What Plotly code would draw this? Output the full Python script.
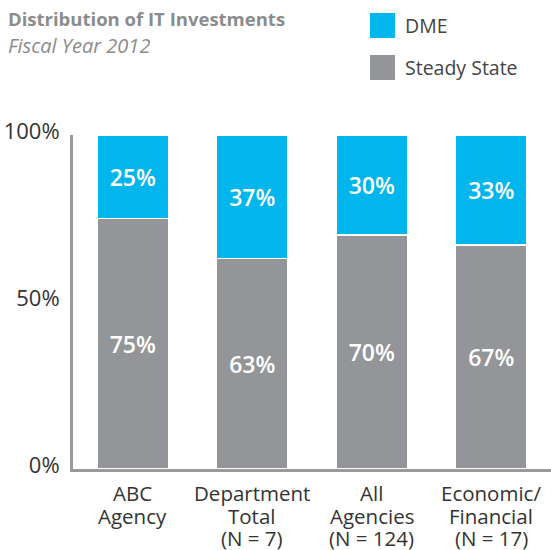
import plotly.graph_objects as go

categories = ["ABC Agency", "Department Total", "All Agencies", "Economic/ Financial"]
category_lines = [["ABC", "Agency"], ["Department", "Total", "(N = 7)"],
                  ["All", "Agencies", "(N = 124)"], ["Economic/", "Financial", "(N = 17)"]]
steady_state = [75, 63, 70, 67]
dme = [25, 37, 30, 33]
tick_vals = [0, 50, 100]
tick_text = ["0%", "50%", "100%"]

W, H = 551, 550
ML, MR, MT, MB = 73, 0, 135, 81
PW, PH = W - ML - MR, H - MT - MB

def px(x):
    return (x - ML) / PW

def py(y):
    return (H - MB - y) / PH

C_DME = "#00B6EC"
C_SS = "#939598"
FONT = "Open Sans"

fig = go.Figure()
for vals, name, col in [(steady_state, "Steady State", C_SS), (dme, "DME", C_DME)]:
    fig.add_trace(go.Bar(
        x=categories, y=vals, name=name,
        marker=dict(color=col, line=dict(color="white", width=1.5)),
        text=[f"{v}%" for v in vals], textposition="inside",
        insidetextanchor="middle",
        textfont=dict(family=FONT, size=23, color="white", weight=600),
        width=0.6,
    ))

shapes = []
annotations = []
for i, (name, col) in enumerate([("DME", C_DME), ("Steady State", C_SS)]):
    y0 = 13 + i * 42
    shapes.append(dict(type="rect", xref="paper", yref="paper",
                       x0=px(370), x1=px(395), y0=py(y0 + 25), y1=py(y0),
                       fillcolor=col, line=dict(width=0)))
    annotations.append(dict(text=name, xref="paper", yref="paper",
                            x=px(403), y=py(y0 + 12.5), xanchor="left", yanchor="middle",
                            showarrow=False,
                            font=dict(family=FONT, size=19.5, color="#444444")))
annotations.append(dict(text="<b>Distribution of IT Investments</b>", xref="paper", yref="paper",
                        x=px(6), y=py(19), xanchor="left", yanchor="middle", showarrow=False,
                        font=dict(family=FONT, size=18.5, color="#8C8C8C")))
annotations.append(dict(text="<i>Fiscal Year 2012</i>", xref="paper", yref="paper",
                        x=px(6), y=py(46), xanchor="left", yanchor="middle", showarrow=False,
                        font=dict(family=FONT, size=20, color="#8C8C8C")))
# category labels, one line each
line_y = [493, 516, 538]
for cat, lines in zip(categories, category_lines):
    for j, ln in enumerate(lines):
        annotations.append(dict(text=ln, xref="x", yref="paper", x=cat, y=py(line_y[j]),
                                xanchor="center", yanchor="middle", showarrow=False,
                                font=dict(family=FONT, size=20.5, color="#333333")))

fig.update_layout(
    width=W, height=H,
    margin=dict(l=ML, r=MR, t=MT, b=MB, pad=0),
    barmode="stack",
    plot_bgcolor="white", paper_bgcolor="white",
    showlegend=False,
    shapes=shapes, annotations=annotations,
    uniformtext=dict(mode="show", minsize=10),
    xaxis=dict(showline=True, linecolor="#9A9A9A", linewidth=3, ticks="",
               showticklabels=False,
               showgrid=False, range=[-0.5, 3.5], fixedrange=True, automargin=False),
    yaxis=dict(range=[0, 100], tickvals=tick_vals, ticktext=tick_text,
               showline=True, linecolor="#9A9A9A", linewidth=3, ticks="outside",
               ticklen=6, tickcolor="rgba(0,0,0,0)", automargin=False,
               ticklabelshift=-4,
               tickfont=dict(family=FONT, size=22, color="#333333"),
               showgrid=False, zeroline=False),
)

fig.write_html("out.html", config={"displayModeBar": False},
               post_script="document.body.style.margin='0';document.body.style.padding='0';")
